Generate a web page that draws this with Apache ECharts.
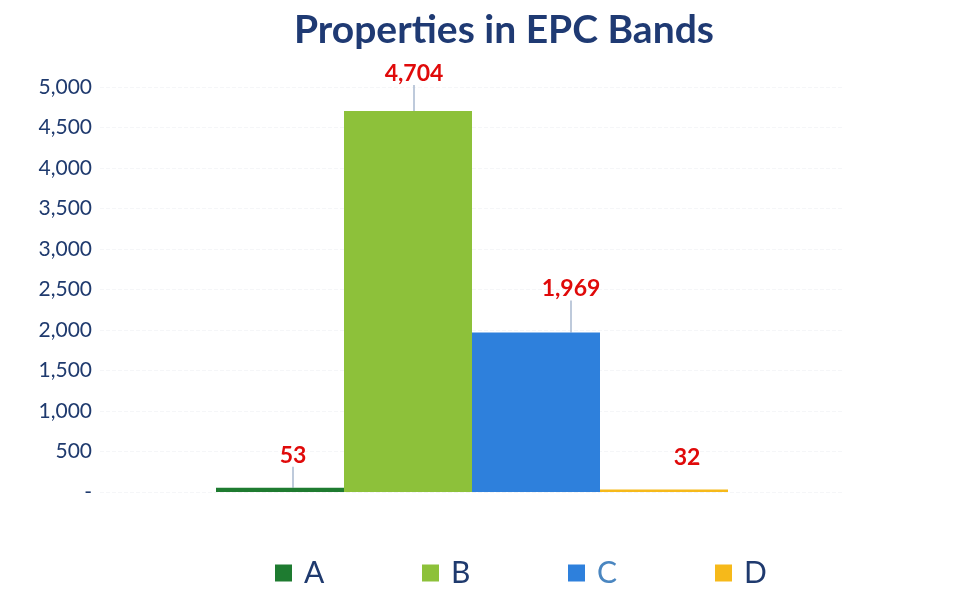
<!DOCTYPE html>
<html>
<head>
<meta charset="utf-8">
<script src="https://cdn.jsdelivr.net/npm/echarts@6/dist/echarts.min.js"></script>
<style>
  html, body { margin: 0; padding: 0; background: #fff; }
  #chart { width: 976px; height: 602px; }
</style>
</head>
<body>
<div id="chart"></div>
<script>
// EPC bands and property counts
const bands = ['A', 'B', 'C', 'D'];
const counts = [53, 4704, 1969, 32];
const yTicks = [0, 500, 1000, 1500, 2000, 2500, 3000, 3500, 4000, 4500, 5000];

const colors = ['#1e7b30', '#8dc13a', '#2e80dc', '#f6b91a'];
const legendText = ['#1f3a6e', '#1f3a6e', '#4a86c0', '#1f3a6e'];
// label nudges (dx, dy) so the leader lines look like the original
const labelMoves = [[13, -17], [6, -22], [35, -28], [23, -16]];
const legendLeft = [270, 417, 563, 710];

const fmt = v => v === 0 ? '-' : v.toLocaleString('en-US');

let myChart = echarts.init(document.getElementById('chart'));

let series = bands.map((b, i) => ({
  name: b,
  type: 'bar',
  barWidth: 128,
  barGap: '0%',
  itemStyle: { color: colors[i] },
  data: [counts[i]],
  label: {
    show: true,
    position: 'top',
    distance: 4,
    formatter: p => fmt(p.value),
    color: '#e00a0a',
    fontFamily: 'Lato',
    fontWeight: 'bold',
    fontSize: 23
  },
  labelLayout: { dx: labelMoves[i][0], dy: labelMoves[i][1] },
  labelLine: {
    show: i !== 3,
    length2: 0,
    lineStyle: { color: '#a9b8cf', width: 1.5 }
  }
}));

let legends = bands.map((b, i) => ({
  data: [b],
  left: legendLeft[i],
  top: 553,
  itemWidth: 17,
  itemHeight: 17,
  itemGap: 12,
  icon: 'rect',
  selectedMode: false,
  textStyle: { color: legendText[i], fontSize: 30, fontFamily: 'Lato', padding: [0, 0, 0, 7] }
}));

let option = {
  animation: false,
  title: {
    text: 'Properties in EPC Bands',
    left: 289,
    top: 6,
    textStyle: { color: '#1f3a73', fontSize: 39, fontWeight: 'bold', fontFamily: 'Lato' }
  },
  legend: legends,
  grid: { left: 100, right: 132, top: 87, bottom: 110 },
  xAxis: {
    type: 'category',
    data: [''],
    axisLine: { show: false },
    axisTick: { show: false },
    axisLabel: { show: false }
  },
  yAxis: {
    type: 'value',
    min: yTicks[0],
    max: yTicks[yTicks.length - 1],
    interval: 500,
    axisLine: { show: false },
    axisTick: { show: false },
    splitLine: { lineStyle: { color: '#f5f6f8', type: 'dashed' } },
    axisLabel: {
      formatter: fmt,
      color: '#1f3a6e',
      fontSize: 21,
      fontFamily: 'Lato',
      margin: 8
    }
  },
  series: series
};

myChart.setOption(option);
</script>
</body>
</html>
